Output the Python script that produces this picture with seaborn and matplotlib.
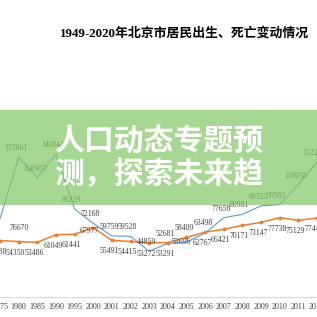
import matplotlib
matplotlib.use("Agg")
import matplotlib.pyplot as plt
import seaborn as sns
import pandas as pd
from matplotlib.patches import Rectangle

# DATA (visible part of the chart, 1975-2012)
years = ["1975", "1980", "1985", "1990", "1995", "2000", "2001", "2002", "2003",
         "2004", "2005", "2006", "2007", "2008", "2009", "2010", "2011", "2012"]
births = [76670, 137061, 116907, 140044, 86329, 72168, 59759, 59528, 44859,
          52681, 53696, 62767, 77658, 80981, 89353, 90583, 110038, 132237]
deaths = [55288, 54350, 53486, 61049, 61441, 67977, 55491, 54415, 53272,
          53291, 58409, 63498, 66421, 70171, 73147, 77738, 75129, 77446]

title = "1949-2020年北京市居民出生、死亡变动情况"
banner_lines = ["人口动态专题预", "测，探索未来趋"]

BLUE = "#5b9bd5"
ORANGE = "#ed7d31"
LABEL = "#404040"

sns.set_theme(style="white")
plt.rcParams["font.family"] = ["Liberation Serif", "Noto Sans CJK SC", "DejaVu Sans"]

df = pd.DataFrame({"pos": range(len(years)), "births": births, "deaths": deaths})

fig = plt.figure(figsize=(3.17, 3.17), dpi=100)
fig.patch.set_facecolor("white")

# axes run past the picture edges, like the cropped screenshot
ax = fig.add_axes([0, 20 / 317, 1, 237 / 317])
sns.lineplot(data=df, x="pos", y="births", ax=ax, color=BLUE, linewidth=0.8)
sns.lineplot(data=df, x="pos", y="deaths", ax=ax, color=ORANGE, linewidth=1.1,
             marker="o", markersize=2.8, markeredgewidth=0)

ax.set_xlim(4 / 18.9, 321 / 18.9)
ax.set_ylim(0, 237 * 980)
ax.set_xlabel("")
ax.set_ylabel("")
ax.set_yticks([])
ax.set_xticks(df["pos"])
ax.set_xticklabels(years, fontsize=5.8, color="#404040")
ax.tick_params(axis="x", length=0, pad=4)
for side in ["top", "left", "right"]:
    ax.spines[side].set_visible(False)
ax.spines["bottom"].set_color("#d9d9d9")
ax.spines["bottom"].set_linewidth(0.8)
ax.set_facecolor("white")

# data labels (offsets in pixels)
for i, v in enumerate(births):
    dx, dy = -3, 9
    if i == 0:
        dx, dy = 19, -9
    elif i == 10:
        dx, dy = -5, 0
    elif i == 11:
        dx, dy = -3, -10
    ax.annotate(f"{v}", (i, v), xytext=(dx, dy), textcoords="offset pixels",
                ha="center", va="center", fontsize=5.6, color=LABEL)

for i, v in enumerate(deaths):
    dx, dy = -3, -11
    if i == 5:
        dx, dy = -4, -3
    elif i in (10, 11):
        dx, dy = -2, 9
    ax.annotate(f"{v}", (i, v), xytext=(dx, dy), textcoords="offset pixels",
                ha="center", va="center", fontsize=5.6, color=LABEL)

fig.text(185 / 317, 1 - 33 / 317, title, ha="center", va="center",
         fontsize=9.3, fontweight="bold", color="black")

# green banner laid over the chart
fig.patches.append(Rectangle((0, 1 - 205 / 317), 1, 95 / 317, transform=fig.transFigure,
                             facecolor="#80c866", alpha=0.7, edgecolor="none", zorder=5))
for k, line in enumerate(banner_lines):
    fig.text(0.5, 1 - (141 + 33 * k) / 317, line, ha="center", va="center",
             fontsize=21.5, fontweight="heavy", color="white",
             family=["Noto Sans CJK SC"], zorder=6)

fig.savefig("out.png", dpi=100)
